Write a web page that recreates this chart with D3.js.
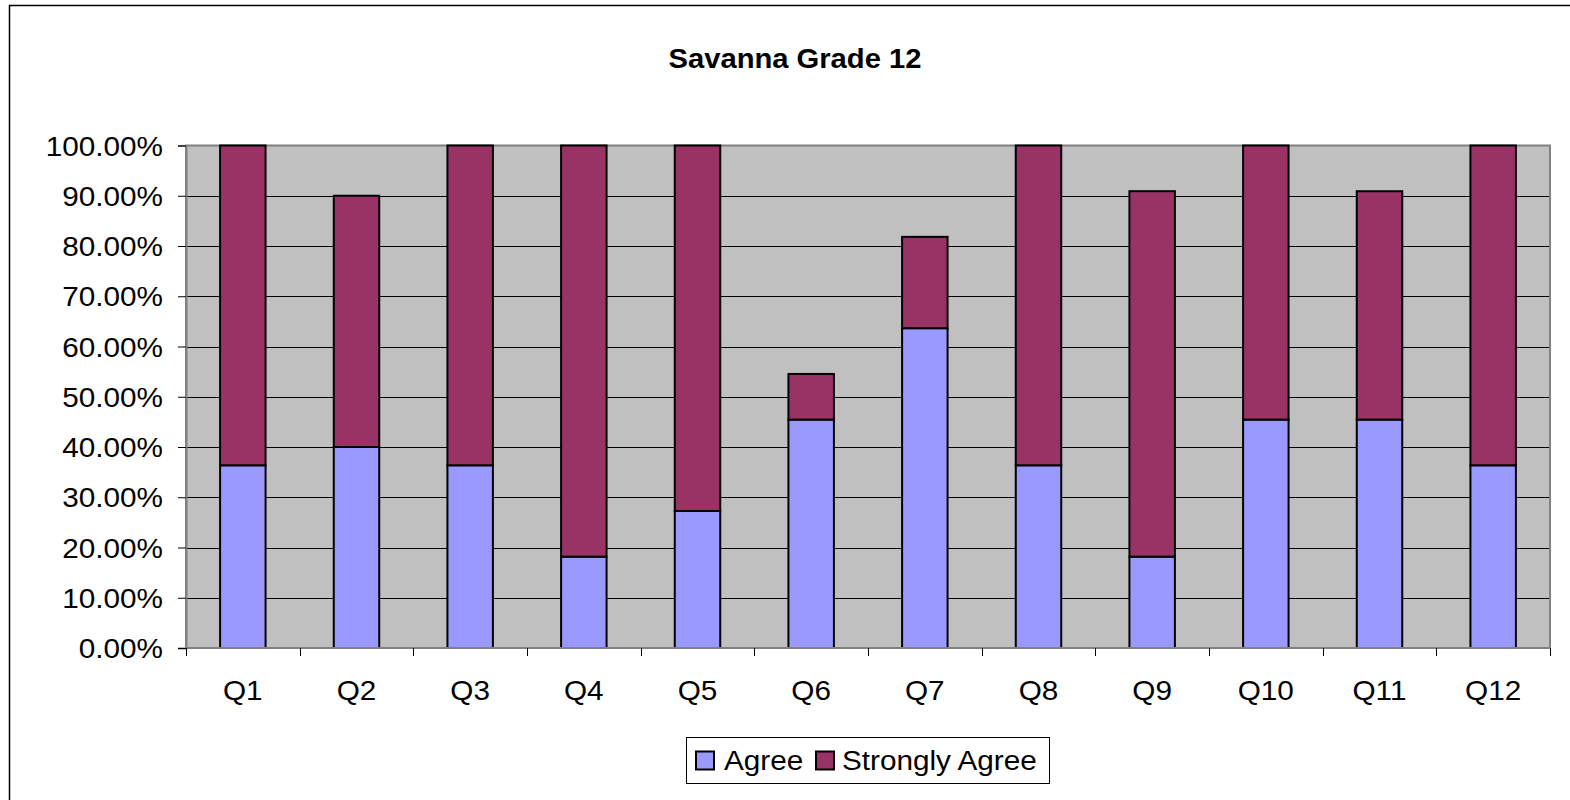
<!DOCTYPE html>
<html>
<head>
<meta charset="utf-8">
<script src="https://cdn.jsdelivr.net/npm/d3@7"></script>
<style>
  html, body { margin: 0; padding: 0; background: #fff; }
  svg { display: block; font-family: "Liberation Sans", Arial, sans-serif; }
</style>
</head>
<body>
<svg id="chart" width="1570" height="800"></svg>
<script>
const categories = ["Q1","Q2","Q3","Q4","Q5","Q6","Q7","Q8","Q9","Q10","Q11","Q12"];
const agree = [0.3636, 0.40, 0.3636, 0.1818, 0.2727, 0.4545, 0.6364, 0.3636, 0.1818, 0.4545, 0.4545, 0.3636];
const stronglyAgree = [0.6364, 0.50, 0.6364, 0.8182, 0.7273, 0.0909, 0.1818, 0.6364, 0.7273, 0.5455, 0.4545, 0.6364];
const seriesNames = ["Agree", "Strongly Agree"];
const seriesColors = ["#9999FF", "#993366"];
const yTicks = [0, 0.1, 0.2, 0.3, 0.4, 0.5, 0.6, 0.7, 0.8, 0.9, 1.0];
const title = "Savanna Grade 12";

const svg = d3.select("#chart");
const plot = { left: 186, right: 1550, top: 145.5, bottom: 648 };
const FS = 27.5;
const SX = 1.08;

// outer chart border
svg.append("rect").attr("x", 9.5).attr("y", 5.5).attr("width", 1600).attr("height", 900)
  .attr("fill", "#fff").attr("stroke", "#000").attr("stroke-width", 1.5);

// title
svg.append("text").attr("x", 795).attr("y", 68).attr("text-anchor", "middle")
  .attr("font-weight", "bold").attr("font-size", 27).attr("fill", "#000")
  .attr("transform", "translate(795,0) scale(1.08,1) translate(-795,0)")
  .text(title);

const x = d3.scaleBand().domain(categories).range([plot.left, plot.right]).padding(0);
const y = d3.scaleLinear().domain([0, 1]).range([plot.bottom, plot.top]);

// plot background
svg.append("rect").attr("x", plot.left).attr("y", plot.top)
  .attr("width", plot.right - plot.left).attr("height", plot.bottom - plot.top)
  .attr("fill", "#C0C0C0");

// gridlines
svg.append("g").selectAll("line").data(yTicks.filter(t => t > 0 && t < 1)).join("line")
  .attr("x1", plot.left).attr("x2", plot.right)
  .attr("y1", d => Math.round(y(d)) + 0.5).attr("y2", d => Math.round(y(d)) + 0.5)
  .attr("stroke", "#000").attr("stroke-width", 1.2);

// plot border
svg.append("rect").attr("x", plot.left).attr("y", plot.top)
  .attr("width", plot.right - plot.left).attr("height", plot.bottom - plot.top)
  .attr("fill", "none").attr("stroke", "#808080").attr("stroke-width", 2);

// stacked data
const rows = categories.map((c, i) => ({ cat: c, Agree: agree[i], "Strongly Agree": stronglyAgree[i] }));
const stack = d3.stack().keys(seriesNames)(rows);
const barW = x.bandwidth() * 0.4;

svg.append("g").selectAll("g").data(stack).join("g")
  .attr("fill", (d, i) => seriesColors[i])
  .selectAll("rect").data(d => d).join("rect")
  .attr("x", d => x(d.data.cat) + (x.bandwidth() - barW) / 2)
  .attr("width", barW)
  .attr("y", d => y(d[1]))
  .attr("height", d => y(d[0]) - y(d[1]))
  .attr("stroke", "#000").attr("stroke-width", 2);

// y axis
const yAxis = d3.axisLeft(y).tickValues(yTicks).tickSize(8).tickPadding(15)
  .tickFormat(d => (d * 100).toFixed(2) + "%");
const gy = svg.append("g").attr("transform", `translate(${plot.left},0)`).call(yAxis);
gy.select(".domain").attr("stroke", "#808080").attr("stroke-width", 2);
gy.selectAll(".tick line").attr("stroke", "#000");
gy.selectAll(".tick text").attr("font-size", FS).attr("fill", "#000")
  .attr("font-family", "Liberation Sans, Arial, sans-serif")
  .attr("dy", "0.35em")
  .attr("transform", `scale(${SX},1)`).attr("x", -23 / SX);

// x axis (ticks at category boundaries)
const boundaries = categories.map(c => x(c)).concat([plot.right]);
const gx = svg.append("g");
gx.append("line").attr("x1", plot.left).attr("x2", plot.right)
  .attr("y1", plot.bottom).attr("y2", plot.bottom).attr("stroke", "#808080").attr("stroke-width", 2);
gx.selectAll("line.tk").data(boundaries).join("line").attr("class", "tk")
  .attr("x1", d => Math.round(d) + 0.5).attr("x2", d => Math.round(d) + 0.5)
  .attr("y1", plot.bottom).attr("y2", plot.bottom + 8).attr("stroke", "#000");
gx.selectAll("text").data(categories).join("text")
  .attr("x", d => x(d) + x.bandwidth() / 2).attr("y", 700)
  .attr("text-anchor", "middle").attr("font-size", FS).attr("fill", "#000")
  .attr("transform", d => { const cx = x(d) + x.bandwidth() / 2; return `translate(${cx},0) scale(${SX},1) translate(${-cx},0)`; })
  .text(d => d);

// legend
const lg = svg.append("g");
lg.append("rect").attr("x", 686.5).attr("y", 737.5).attr("width", 363).attr("height", 46)
  .attr("fill", "#fff").attr("stroke", "#000").attr("stroke-width", 1);
const legendItems = [
  { name: seriesNames[0], color: seriesColors[0], sx: 696, tx: 724 },
  { name: seriesNames[1], color: seriesColors[1], sx: 816, tx: 842 }
];
legendItems.forEach(it => {
  lg.append("rect").attr("x", it.sx).attr("y", 751.5).attr("width", 18).attr("height", 18)
    .attr("fill", it.color).attr("stroke", "#000").attr("stroke-width", 2);
  lg.append("text").attr("x", it.tx).attr("y", 770).attr("font-size", FS).attr("fill", "#000")
    .attr("transform", `translate(${it.tx},0) scale(${SX},1) translate(${-it.tx},0)`)
    .text(it.name);
});
</script>
</body>
</html>
